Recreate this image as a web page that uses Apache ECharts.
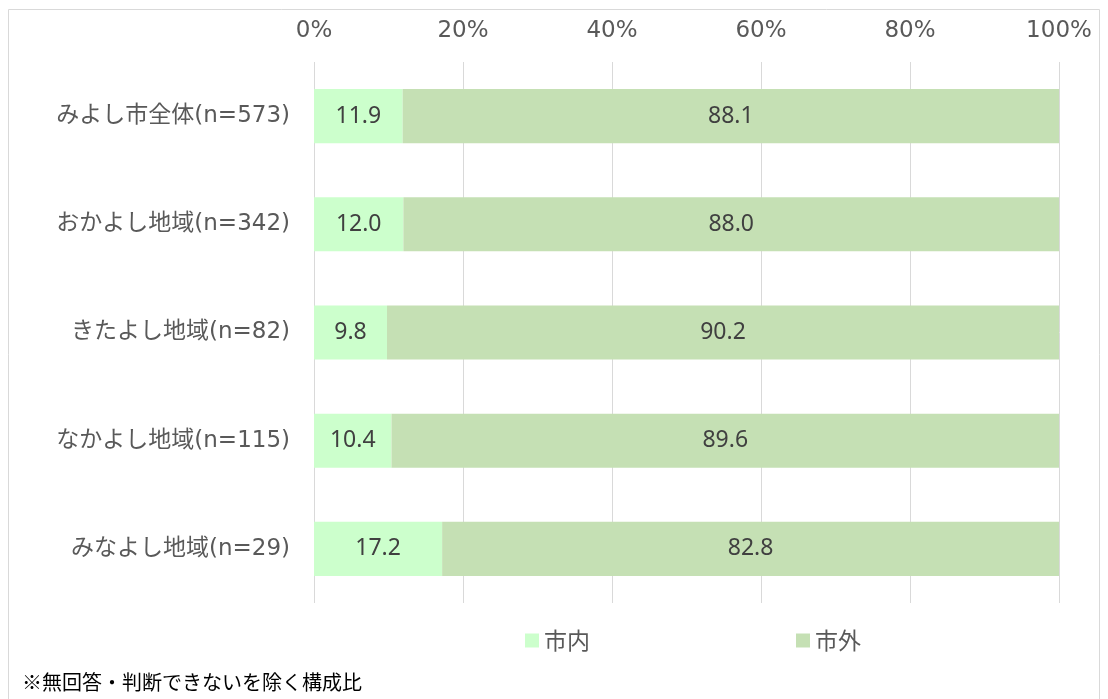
<!DOCTYPE html>
<html>
<head>
<meta charset="utf-8">
<script src="https://cdn.jsdelivr.net/npm/echarts@6/dist/echarts.min.js"></script>
<style>
html,body{margin:0;padding:0;background:#fff;}
#main{width:1108px;height:699px;}
</style>
</head>
<body>
<div id="main"></div>
<script>
// 地域区分（上から順）
var categories = ['みよし市全体(n=573)', 'おかよし地域(n=342)', 'きたよし地域(n=82)', 'なかよし地域(n=115)', 'みなよし地域(n=29)'];
// 市内 / 市外 の構成比
var shinai = [11.9, 12.0, 9.8, 10.4, 17.2];
var shigai = [88.1, 88.0, 90.2, 89.6, 82.8];
var seriesNames = ['市内', '市外'];
var xTicks = [0, 20, 40, 60, 80, 100];

var font = '"DejaVu Sans", "Noto Sans CJK JP", sans-serif';
var numFont = '"Noto Sans", sans-serif';
var myChart = echarts.init(document.getElementById('main'));

myChart.setOption({
  animation: false,
  textStyle: { fontFamily: font },
  graphic: [{
    type: 'rect',
    shape: { x: 8.5, y: 9.5, width: 1091, height: 720 },
    style: { fill: 'none', stroke: '#d9d9d9', lineWidth: 1 },
    silent: true
  }, {
    type: 'text',
    left: 22, top: 672,
    style: { text: '※無回答・判断できないを除く構成比', fontSize: 20, fill: '#000', fontFamily: '"Noto Sans CJK JP", sans-serif' }
  }],
  legend: {
    data: seriesNames,
    left: 520, top: 624,
    itemWidth: 14, itemHeight: 14, itemGap: 206,
    icon: 'rect',
    textStyle: { fontSize: 23, color: '#595959', fontFamily: '"Noto Sans CJK JP", sans-serif' }
  },
  grid: { left: 314, right: 49, top: 62, bottom: 96, containLabel: false },
  xAxis: {
    type: 'value', position: 'top',
    min: 0, max: 100, interval: 20,
    axisLine: { show: false }, axisTick: { show: false },
    axisLabel: {
      fontSize: 23, color: '#595959', margin: 19,
      formatter: function (v) { return xTicks.indexOf(v) >= 0 ? v + '%' : ''; }
    },
    splitLine: { lineStyle: { color: '#d9d9d9' } }
  },
  yAxis: {
    type: 'category', inverse: true, data: categories,
    axisLine: { show: false }, axisTick: { show: false },
    axisLabel: { fontSize: 23, color: '#595959', margin: 24 }
  },
  series: [{
    name: seriesNames[0], type: 'bar', stack: 'total', barWidth: '50%',
    data: shinai,
    itemStyle: { color: '#ccffcc' },
    label: { show: true, position: 'inside', fontSize: 23, fontFamily: numFont, color: '#404040', formatter: function (p) { return p.value.toFixed(1); } }
  }, {
    name: seriesNames[1], type: 'bar', stack: 'total', barWidth: '50%',
    data: shigai,
    itemStyle: { color: '#c5e0b4' },
    label: { show: true, position: 'inside', fontSize: 23, fontFamily: numFont, color: '#404040', formatter: function (p) { return p.value.toFixed(1); } }
  }]
});
</script>
</body>
</html>
